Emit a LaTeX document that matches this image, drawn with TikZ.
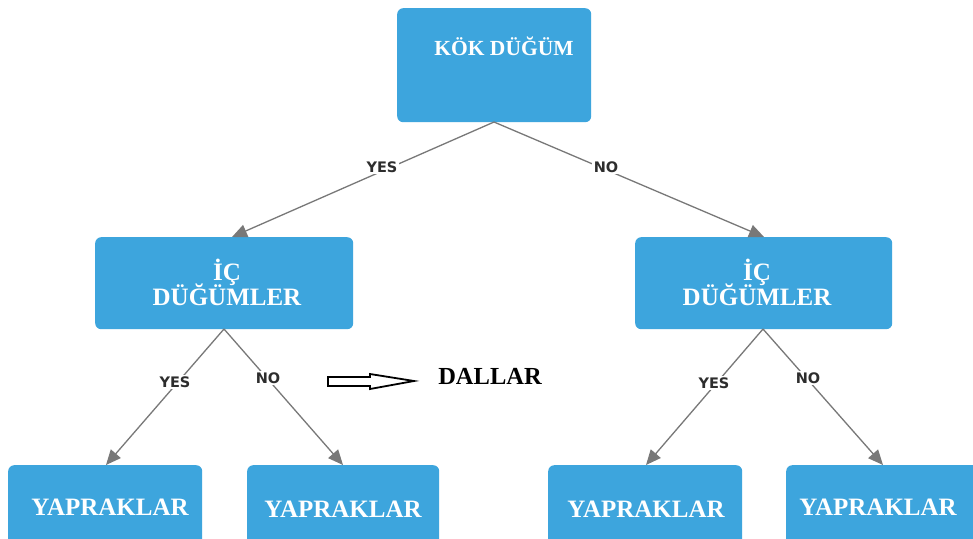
\documentclass[tikz,border=0pt]{standalone}
\usepackage{fontspec}
\setmainfont{Liberation Serif}
\newfontfamily\lblfont{DejaVu Sans}
\usetikzlibrary{arrows.meta}
\definecolor{boxblue}{RGB}{61,165,221}
\definecolor{edgegray}{RGB}{120,120,120}
\definecolor{lblgray}{RGB}{45,45,45}
\begin{document}
\begin{tikzpicture}[x=1pt,y=-1pt,
  box/.style={fill=boxblue, draw=none, rounded corners=6pt, inner sep=0pt, anchor=north west},
  boxtext/.style={text=white, font=\fontsize{25}{26}\selectfont\bfseries, inner sep=0pt, align=center},
  edge/.style={draw=edgegray, line width=1.3pt, -{Triangle[length=15pt,width=13pt]}},
  elabel/.style={fill=white, text=lblgray, font=\lblfont\fontsize{14.5}{15}\selectfont\bfseries, inner sep=1.5pt}]
\clip (0,0) rectangle (973,538);
\fill[white] (0,0) rectangle (973,538);
% boxes
\node[box, minimum width=194pt, minimum height=114pt] (root) at (397,8) {};
\node[box, minimum width=258pt, minimum height=92pt] (il) at (95,237) {};
\node[box, minimum width=257pt, minimum height=92pt] (ir) at (635,237) {};
\node[box, minimum width=194pt, minimum height=100pt] (l1) at (8,465) {};
\node[box, minimum width=192pt, minimum height=100pt] (l2) at (247,465) {};
\node[box, minimum width=194pt, minimum height=100pt] (l3) at (548,465) {};
\node[box, minimum width=200pt, minimum height=100pt] (l4) at (786,465) {};
% texts
\node[boxtext, font=\fontsize{21.5}{23}\selectfont\bfseries] (troot) at (504,46) {KÖK DÜĞÜM};
\node[boxtext] (til) at (227,282) {İÇ\\[-3pt]DÜĞÜMLER};
\node[boxtext] (tir) at (757,282) {İÇ\\[-3pt]DÜĞÜMLER};
\node[boxtext] (t1) at (110,507) {YAPRAKLAR};
\node[boxtext] (t2) at (343,509) {YAPRAKLAR};
\node[boxtext] (t3) at (646,509) {YAPRAKLAR};
\node[boxtext] (t4) at (878,507) {YAPRAKLAR};
% connectors
\coordinate (rb) at (494,122);
\coordinate (ilb) at (224,329);
\coordinate (irb) at (763,329);
\coordinate (ilt) at (232,237);
\coordinate (irt) at (764,237);
\coordinate (l1t) at (106,465);
\coordinate (l2t) at (343,465);
\coordinate (l3t) at (646,465);
\coordinate (l4t) at (883,465);
\draw[edge] (rb) -- (ilt);
\draw[edge] (rb) -- (irt);
\draw[edge] (ilb) -- (l1t);
\draw[edge] (ilb) -- (l2t);
\draw[edge] (irb) -- (l3t);
\draw[edge] (irb) -- (l4t);
\node[elabel] (y1) at (382,167) {YES};
\node[elabel] (n1) at (606,167) {NO};
\node[elabel] (y2) at (175,382) {YES};
\node[elabel] (n2) at (268,378) {NO};
\node[elabel] (y3) at (714,383) {YES};
\node[elabel] (n3) at (808,378) {NO};
% DALLAR hollow arrow
\draw[line width=1.8pt, fill=white, line join=miter]
  (328,377) -- (370,377) -- (370,374) -- (414,381) -- (370,389) -- (370,386) -- (328,386) -- cycle;
\node[font=\fontsize{24.5}{25}\selectfont\bfseries, text=black, inner sep=0pt] (dallar) at (490,376) {DALLAR};
\end{tikzpicture}
\end{document}
